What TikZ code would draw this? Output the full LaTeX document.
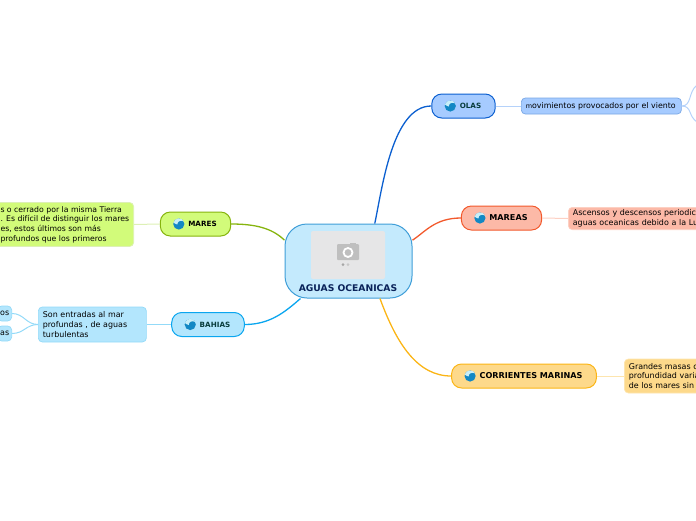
\documentclass[tikz,border=0pt]{standalone}
\usepackage{fontspec}
\setmainfont{DejaVu Sans}
\definecolor{olasfill}{HTML}{A6CBFF}
\definecolor{olasline}{HTML}{0B5FD0}
\definecolor{olaspale}{HTML}{B5D2FA}
\definecolor{mareasfill}{HTML}{FCB9A7}
\definecolor{mareasline}{HTML}{F2592C}
\definecolor{mareaspale}{HTML}{FDD0C3}
\definecolor{corrfill}{HTML}{FDD98B}
\definecolor{corrline}{HTML}{FBB516}
\definecolor{corrpale}{HTML}{FDE5AE}
\definecolor{maresfill}{HTML}{D2FB7A}
\definecolor{maresline}{HTML}{86B40E}
\definecolor{marespale}{HTML}{DDF0B5}
\definecolor{bahiasfill}{HTML}{B3E6FD}
\definecolor{bahiasline}{HTML}{0AA6EF}
\definecolor{bahiaspale}{HTML}{93DAF8}
\definecolor{wavedeep}{HTML}{1388C4}
\definecolor{wavelight}{HTML}{C8EEF8}
\tikzset{
  topic/.style={draw, line width=1pt, rounded corners=10pt, minimum height=24pt, inner xsep=14pt, inner ysep=0pt, font=\bfseries\fontsize{8.1}{9}\selectfont},
  smalltopic/.style={topic, font=\bfseries\fontsize{7.2}{8}\selectfont},
  note/.style={draw, line width=0.7pt, rounded corners=4pt, anchor=west, inner xsep=4.5pt, inner ysep=2.5pt, align=left, font=\fontsize{7.95}{9.6}\selectfont},
  tip/.style={note, anchor=east, minimum height=15pt, inner ysep=0pt, inner xsep=2.5pt},
  link/.style={line width=1.3pt},
  twig/.style={line width=1pt},
  wave/.pic={
    \fill[wavedeep] (0,0) circle (5.6);
    \fill[wavelight] (-5.3,-1.5) .. controls (-4,-6.5) and (3,-7) .. (5,-2.6) .. controls (2,-4) and (-1.5,-3) .. (-1.5,0.5) .. controls (-3,0) and (-4.5,-0.5) .. (-5.3,-1.5) -- cycle;
  }
}
\begin{document}
\begin{tikzpicture}[x=1pt,y=-1pt]
\def\Ico{\hspace*{14pt}}
\useasboundingbox (0,0) rectangle (696,520);
\clip (0,0) rectangle (696,520);

\node[draw={rgb,255:red,63;green,158;blue,216}, fill={rgb,255:red,196;green,234;blue,253}, line width=1pt, rounded corners=22pt, minimum width=127pt, minimum height=74pt, inner sep=0pt] (root) at (348.5,261) {};
\node[fill={rgb,255:red,230;green,230;blue,231}, rounded corners=2pt, minimum width=74pt, minimum height=48pt, inner sep=0pt] (photo) at (348,255) {};
\node[font=\bfseries\fontsize{9.2}{10}\selectfont, text={rgb,255:red,10;green,35;blue,90}, inner sep=0pt] (title) at (348,288) {AGUAS OCEANICAS};
\fill[black!25, rounded corners=1pt] (337,244) rectangle (359,260);
\fill[black!25] (350,242.5) rectangle (356,245);
\draw[white, line width=1.8pt] (348,252.5) circle (4.5);
\fill[black!35] (343,264.5) circle (1.5);
\fill[black!22] (348,264.5) circle (1.5);

\node[smalltopic, draw=olasline, fill=olasfill, text={rgb,255:red,8;green,60;blue,60}] (olas) at (463.5,106) {\Ico OLAS};
\node[topic, draw=mareasline, fill=mareasfill] (mareas) at (501.5,218) {\Ico MAREAS};
\node[topic, draw=corrline, fill=corrfill] (corrientes) at (524,376) {\Ico CORRIENTES MARINAS};
\node[smalltopic, draw=maresline, fill=maresfill] (mares) at (195.5,224) {\Ico MARES};
\node[smalltopic, draw=bahiasline, fill=bahiasfill, text={rgb,255:red,8;green,60;blue,60}] (bahias) at (208,324.5) {\Ico BAHIAS};

\node[note, draw=olasline!55, fill=olasfill, inner ysep=1pt, minimum height=16pt, text width=151pt, font=\fontsize{7.85}{9.6}\selectfont] (viento) at (521,106) {{\fontsize{6.5}{8}\selectfont m}ovimientos provocados por el viento};
\node[note, draw=mareaspale, fill=mareasfill, text width=170pt] (periodos) at (568,218.5) {Ascensos y descensos periodic\\aguas oceanicas debido a la Lu};
\node[note, draw=corrpale, fill=corrfill, text width=170pt, minimum height=34pt] (masas) at (624,376) {Grandes masas c\\profundidad varia\\de los mares sin};
\node[note, anchor=east, draw=marespale, fill=maresfill, minimum height=44pt, font=\fontsize{7.75}{9.6}\selectfont] (cerrado) at (134,224.5) {s o cerrado por la misma Tierra\\. Es difícil de distinguir los mares\\es, estos últimos son más\\profundos que los primeros};
\node[note, draw=bahiaspale, fill=bahiasfill, text width=99pt, minimum height=35pt] (entradas) at (38,324.5) {Son entradas al mar\\profundas , de aguas\\turbulentas};
\node[tip, draw=bahiaspale, fill=bahiasfill] (cabos) at (12,313.5) {os};
\node[tip, draw=bahiaspale, fill=bahiasfill] (golfos) at (12,333.5) {as};

\foreach \n in {olas,mareas,corrientes,mares,bahias}
  \pic at ([xshift=19pt]\n.west) {wave};

\coordinate (rise) at (697,85);
\coordinate (fall) at (697,122);

\draw[link, olasline] (root.55) .. controls (382,190) and (392,106) .. (olas.west);
\draw[link, mareasline] (root.18) .. controls (425,232) and (435,218) .. (mareas.west);
\draw[link, corrline] (root.-50) .. controls (397,345) and (418,376) .. (corrientes.west);
\draw[link, maresline] (root.162) .. controls (272,228) and (255,224) .. (mares.east);
\draw[link, bahiasline] (root.218.5) .. controls (285,312) and (270,324.5) .. (bahias.east);

\draw[twig, olaspale] (olas.east) -- (viento.west);
\draw[twig, mareaspale] (mareas.east) -- (periodos.west);
\draw[twig, corrpale] (corrientes.east) -- (masas.west);
\draw[twig, marespale] (mares.west) -- (cerrado.east);
\draw[twig, bahiaspale] (bahias.west) -- (entradas.east);
\draw[twig, bahiaspale] (entradas.west) .. controls (26,324.5) and (24,313.5) .. (cabos.east);
\draw[twig, bahiaspale] (entradas.west) .. controls (26,324.5) and (24,333.5) .. (golfos.east);
\draw[twig, olaspale] (viento.east) .. controls (692,106) and (688,92) .. (rise);
\draw[twig, olaspale] (viento.east) .. controls (692,106) and (688,116) .. (fall);
\end{tikzpicture}
\end{document}
